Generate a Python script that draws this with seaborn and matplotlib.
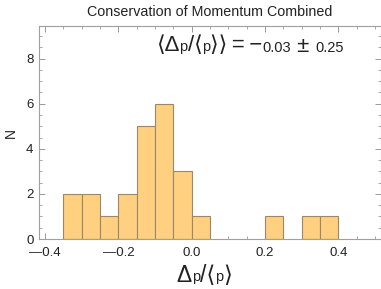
import numpy as np
import matplotlib
matplotlib.use("Agg")
import matplotlib.pyplot as plt
import seaborn as sns
from matplotlib.ticker import MultipleLocator, FuncFormatter
from matplotlib.offsetbox import TextArea, HPacker, AnnotationBbox

# histogram bins (width 0.05) and counts
bin_edges = [-0.35, -0.30, -0.25, -0.20, -0.15, -0.10, -0.05, 0.00, 0.05,
             0.10, 0.15, 0.20, 0.25, 0.30, 0.35, 0.40]
counts = [2, 2, 1, 2, 5, 6, 3, 1, 0, 0, 0, 1, 0, 1, 1]
mean_val = "0.03"
std_val = "0.25"

centers = [(a + b) / 2 for a, b in zip(bin_edges[:-1], bin_edges[1:])]

sns.set_theme(style="ticks")
fams = ["Liberation Sans", "DejaVu Sans"]
plt.rcParams["font.family"] = fams

TXT = "#222222"

fig = plt.figure(figsize=(3.81, 2.89), dpi=100)
ax = fig.add_axes([39 / 381, 50 / 289, 342 / 381, 213 / 289])

sns.histplot(x=centers, weights=counts, bins=bin_edges, ax=ax,
             color="#FED080", edgecolor="#9C8868", linewidth=0.8, alpha=1)
for p in ax.patches:
    if p.get_height() == 0:
        p.set_visible(False)

ax.set_xlim(-0.4165, 0.516)
ax.set_ylim(0, 9.45)

ax.xaxis.set_major_locator(MultipleLocator(0.2))
ax.xaxis.set_minor_locator(MultipleLocator(0.05))
ax.yaxis.set_major_locator(MultipleLocator(2))
ax.yaxis.set_minor_locator(MultipleLocator(0.5))
ax.xaxis.set_major_formatter(FuncFormatter(
    lambda v, pos: ("\u2014" if v < -1e-9 else "") + f"{abs(v):.1f}"))
ax.yaxis.set_major_formatter(FuncFormatter(lambda v, pos: f"{v:.0f}"))

ax.tick_params(which="both", direction="in", top=True, right=True,
               color="#999999", labelsize=9.5, labelcolor=TXT)
ax.tick_params(axis="x", pad=6)
ax.tick_params(axis="y", pad=4)
ax.tick_params(which="major", length=4, width=0.7)
ax.tick_params(which="minor", length=2, width=0.6)
for s in ax.spines.values():
    s.set_color("#A0A0A0")
    s.set_linewidth(0.8)

ax.set_title("Conservation of Momentum Combined", fontsize=10.3, pad=7,
             color=TXT)
ax.set_ylabel("N", fontsize=10, labelpad=6, color=TXT)
ax.set_xlabel("")


def rich(parts, big, small):
    # parts: list of (text, big?) pieces lined up on one baseline
    boxes = [TextArea(t, textprops=dict(fontsize=big if b else small,
                                        color=TXT, family=fams))
             for t, b in parts]
    return HPacker(children=boxes, align="baseline", pad=0, sep=0)


stat = rich([("\u27e8\u0394", True), ("p", False), ("/\u27e8", True),
             ("p", False), ("\u27e9\u27e9\u2009=\u2009\u2212", True),
             (mean_val, False), (" \u00b1 ", True), (std_val, False)],
            big=16, small=10.5)
ax.add_artist(AnnotationBbox(stat, (156 / 381, 1 - 46 / 289),
                             xycoords="figure fraction",
                             box_alignment=(0, 0.5), frameon=False, pad=0))

xlab = rich([("\u0394", True), ("p", False), ("/\u27e8", True),
             ("p", False), ("\u27e9", True)],
            big=16.5, small=10.5)
fig.add_artist(AnnotationBbox(xlab, (204.5 / 381, 1 - 275 / 289),
                              xycoords="figure fraction",
                              box_alignment=(0.5, 0.5), frameon=False, pad=0))

fig.savefig("out.png", dpi=100)
